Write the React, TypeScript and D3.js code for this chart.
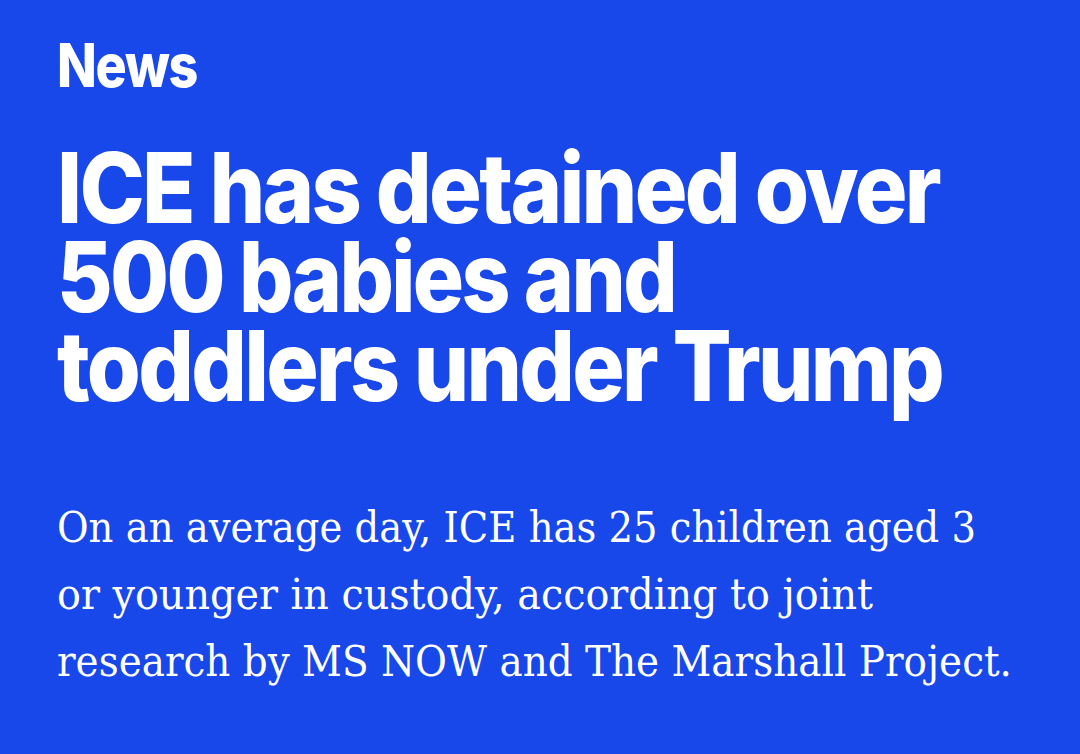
import { useRef, useEffect } from 'react';
import * as d3 from 'd3';

// Text content
const kicker = 'News';
const headlineLines = ['ICE has detained over', '500 babies and', 'toddlers under Trump'];
const dekLines = [
  'On an average day, ICE has 25 children aged 3',
  'or younger in custody, according to joint',
  'research by MS NOW and The Marshall Project.',
];

// Layout: measured widths of each rendered line (px)
const kickerWidth = 140;
const headlineWidths = [882, 618, 885];
const dekWidths = [919, 816, 955];

const W = 1080;
const H = 754;
const LEFT = 57;
const BG = '#1847ea';

export default function App() {
  const svgRef = useRef<SVGSVGElement>(null);

  useEffect(() => {
    if (!svgRef.current) return;
    document.body.style.margin = '0';

    const svg = d3.select(svgRef.current);
    svg.selectAll('*').remove();
    svg.attr('width', W).attr('height', H);

    svg.append('rect').attr('width', W).attr('height', H).attr('fill', BG);

    const sans = 'Inter, Roboto, "Noto Sans", sans-serif';

    // Kicker
    svg
      .append('text')
      .attr('x', LEFT)
      .attr('y', 87)
      .attr('fill', '#fff')
      .attr('font-family', sans)
      .attr('font-weight', 800)
      .attr('font-size', 60)
      .attr('letter-spacing', -1.5)
      .attr('textLength', kickerWidth)
      .attr('lengthAdjust', 'spacingAndGlyphs')
      .text(kicker);

    // Headline, baselines spread by a linear scale over line index
    const yHead = d3.scaleLinear().domain([0, headlineLines.length - 1]).range([223, 401]);
    svg
      .append('g')
      .selectAll('text')
      .data(headlineLines)
      .join('text')
      .attr('x', LEFT)
      .attr('y', (_, i) => yHead(i))
      .attr('fill', '#fff')
      .attr('font-family', sans)
      .attr('font-weight', 800)
      .attr('font-size', 97)
      .attr('letter-spacing', -3)
      .attr('textLength', (_, i) => headlineWidths[i])
      .attr('lengthAdjust', 'spacingAndGlyphs')
      .text((d) => d);

    // Dek
    const yDek = d3.scaleLinear().domain([0, dekLines.length - 1]).range([542, 676]);
    svg
      .append('g')
      .selectAll('text')
      .data(dekLines)
      .join('text')
      .attr('x', LEFT)
      .attr('y', (_, i) => yDek(i))
      .attr('fill', '#fff')
      .attr('font-family', '"DejaVu Serif", "Liberation Serif", serif')
      .attr('font-size', 42)
      .attr('textLength', (_, i) => dekWidths[i])
      .attr('lengthAdjust', 'spacingAndGlyphs')
      .text((d) => d);
  }, []);

  return <svg ref={svgRef} style={{ display: 'block' }} />;
}
